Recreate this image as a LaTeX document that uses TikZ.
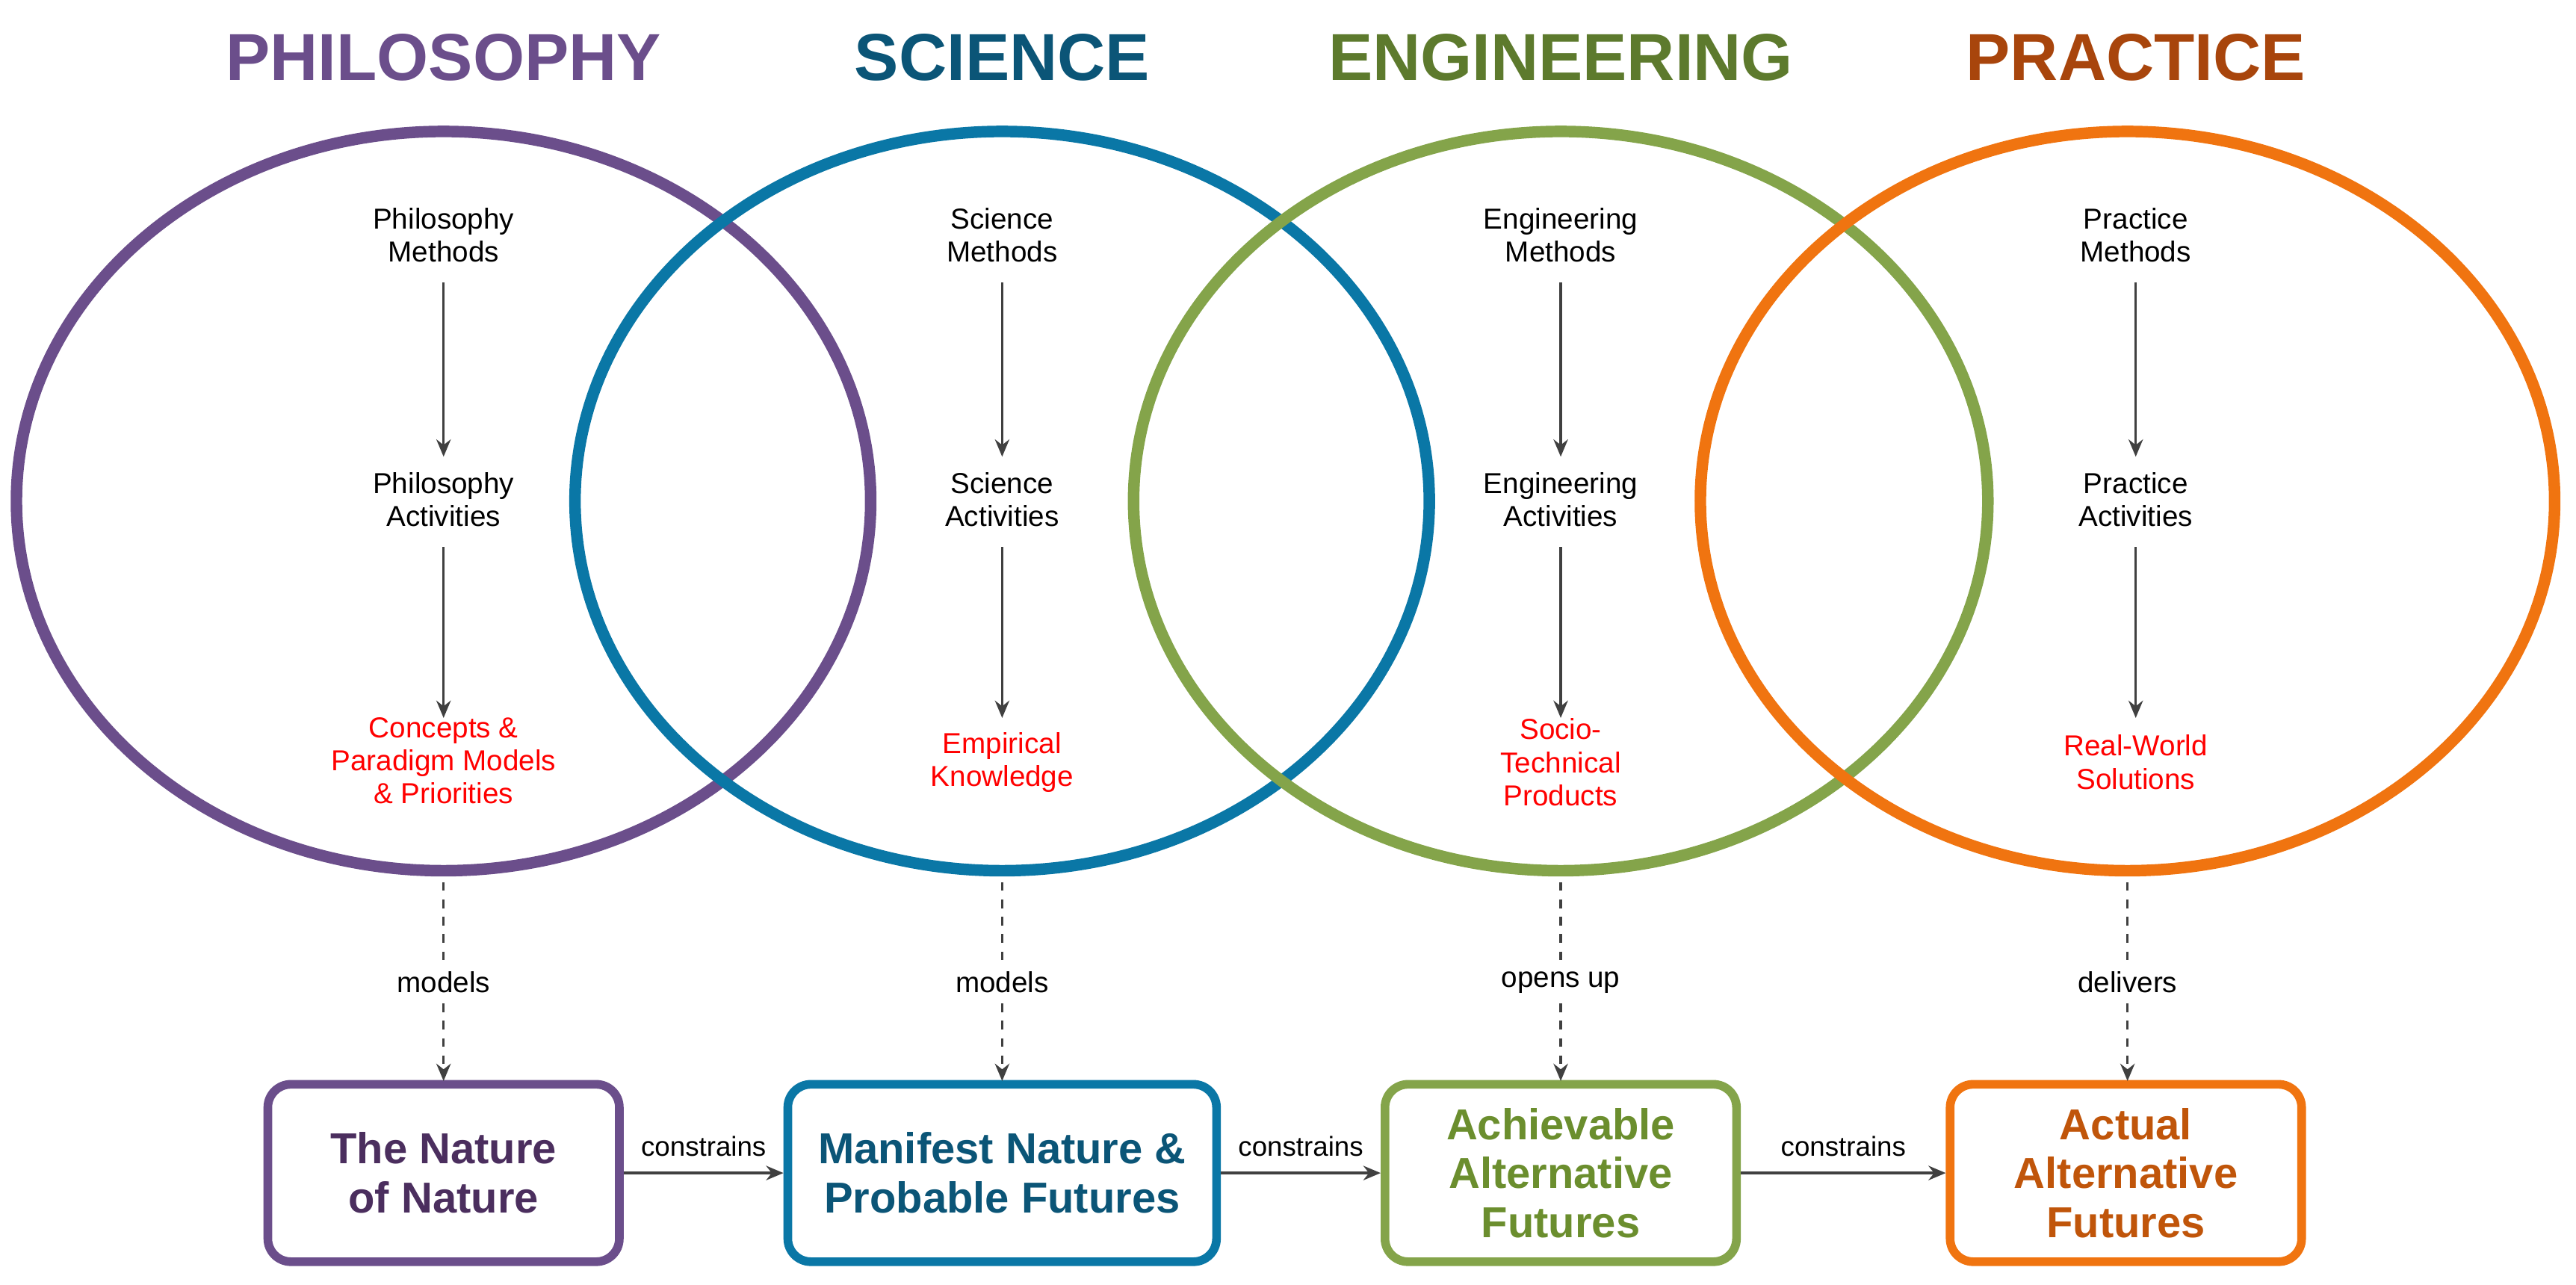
\documentclass[tikz,border=0pt]{standalone}
\usepackage{fontspec}
\setmainfont{Liberation Sans}
\usetikzlibrary{arrows.meta}
\definecolor{cP}{HTML}{6B4E8B}\definecolor{cS}{HTML}{0A77A6}\definecolor{cE}{HTML}{84A44A}\definecolor{cR}{HTML}{F07410}
\definecolor{tP}{HTML}{6B4E8B}\definecolor{tS}{HTML}{0B5577}\definecolor{tE}{HTML}{5D7A2D}\definecolor{tR}{HTML}{A8450C}
\definecolor{bP}{HTML}{4B2E5E}\definecolor{bS}{HTML}{0B5577}\definecolor{bE}{HTML}{6B8E2E}\definecolor{bR}{HTML}{C0550A}
\definecolor{ln}{HTML}{404040}
\begin{document}
\begin{tikzpicture}[x=0.02cm,y=-0.02cm,
 title/.style={font=\fontsize{23}{26}\selectfont\bfseries},
 intext/.style={font=\fontsize{10}{11.5}\selectfont,align=center},
 outtext/.style={intext,text=red},
 box/.style={draw,line width=3pt,rounded corners=8pt,minimum width=4.28cm,minimum height=2.16cm,align=center,font=\fontsize{15}{17}\selectfont\bfseries},
 arr/.style={-{Stealth[length=6pt,width=5pt]},ln,line width=0.9pt},
 darr/.style={arr,dashed},
 lab/.style={font=\fontsize{10}{12}\selectfont,fill=white,inner sep=2pt}]
\useasboundingbox (0,0) rectangle (1568,782);
\foreach \x/\c in {270/cP,610/cS,950/cE,1295/cR}
  \draw[\c,line width=4pt] (\x,305) ellipse [x radius=260,y radius=225];
\node[title,text=tP] at (270,35) {PHILOSOPHY};
\node[title,text=tS] at (610,35) {SCIENCE};
\node[title,text=tE] at (950,35) {ENGINEERING};
\node[title,text=tR] at (1300,35) {PRACTICE};
\foreach \n/\x/\t/\o/\oy in {p/270/Philosophy/{Concepts \&\\Paradigm Models\\\& Priorities}/463,
  s/610/Science/{Empirical\\Knowledge}/464,
  e/950/Engineering/{Socio-\\Technical\\Products}/464,
  r/1300/Practice/{Real-World\\Solutions}/464}{
  \node[intext] (\n m) at (\x,143) {\t\\Methods};
  \node[intext] (\n a) at (\x,304) {\t\\Activities};
  \node[outtext] (\n o) at (\x,\oy) {\o};
  \draw[arr] (\x,172) -- (\x,278);
  \draw[arr] (\x,333) -- (\x,437);
}
\node[box,draw=cP,text=bP] (bp) at (270,714) {The Nature\\of Nature};
\node[box,draw=cS,text=bS,minimum width=5.22cm] (bs) at (610,714) {Manifest Nature \&\\Probable Futures};
\node[box,draw=cE,text=bE] (be) at (950,714) {Achievable\\Alternative\\Futures};
\node[box,draw=cR,text=bR] (br) at (1294,714) {Actual\\Alternative\\Futures};
\foreach \n/\x/\l in {p/270/models,s/610/models,e/950/opens up,r/1295/delivers}{
  \draw[darr] (\x,537) -- (\x,658);
  \node[lab] at (\x,598) {\l};
}
\draw[arr] (bp) -- (bs) node[midway,above=2pt,font=\fontsize{9.5}{11}\selectfont,text=black] {constrains};
\draw[arr] (bs) -- (be) node[midway,above=2pt,font=\fontsize{9.5}{11}\selectfont,text=black] {constrains};
\draw[arr] (be) -- (br) node[midway,above=2pt,font=\fontsize{9.5}{11}\selectfont,text=black] {constrains};
\end{tikzpicture}
\end{document}
